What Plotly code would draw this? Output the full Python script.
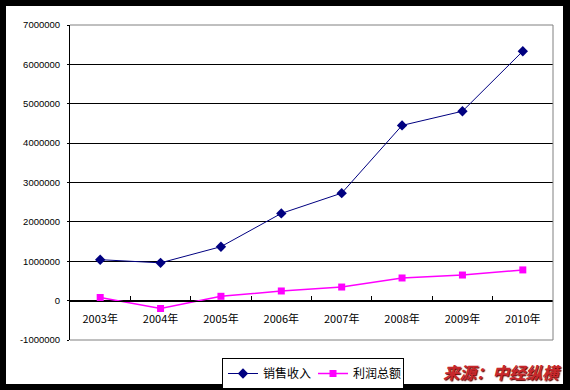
import plotly.graph_objects as go

years = ["2003年", "2004年", "2005年", "2006年", "2007年", "2008年", "2009年", "2010年"]
sales = [1040000, 960000, 1370000, 2215000, 2730000, 4450000, 4810000, 6335000]
profit = [80000, -200000, 110000, 245000, 345000, 575000, 650000, 780000]
y_tickvals = [-1000000, 0, 1000000, 2000000, 3000000, 4000000, 5000000, 6000000, 7000000]
y_ticktext = ["-1000000", "0", "1000000", "2000000", "3000000", "4000000", "5000000", "6000000", "7000000"]

W, H = 570, 390
ml, mr, mt, mb = 6, 7, 6, 6
pw, ph = W - ml - mr, H - mt - mb
# plot area in pixels
px0, px1, py0, py1 = 70, 553, 25, 340
xd = [(px0 - ml) / pw, (px1 - ml) / pw]
yd = [(H - mb - py1) / ph, (H - mb - py0) / ph]
ymin, ymax = -1000000, 7000000
zero_pos = yd[0] + (yd[1] - yd[0]) * (0 - ymin) / (ymax - ymin)

cjk = "Noto Sans CJK SC"

fig = go.Figure()
fig.add_trace(go.Scatter(
    x=years, y=sales, name="销售收入", mode="lines+markers",
    line=dict(color="#000080", width=1),
    marker=dict(symbol="diamond", size=8, color="#000080"),
))
fig.add_trace(go.Scatter(
    x=years, y=profit, name="利润总额", mode="lines+markers",
    line=dict(color="#FF00FF", width=1.5),
    marker=dict(symbol="square", size=7, color="#FF00FF"),
))

shapes = [
    dict(type="rect", xref="paper", yref="paper", x0=0, x1=1, y0=0, y1=1,
         fillcolor="white", line=dict(width=0), layer="below"),
]
for (x0, y0, x1, y1) in [(0, 1, 1, 1), (1, 0, 1, 1), (0, 0, 1, 0)]:
    shapes.append(dict(type="line", xref="x domain", yref="y domain",
                       x0=x0, y0=y0, x1=x1, y1=y1,
                       line=dict(color="#808080", width=1), layer="above"))

fig.update_layout(
    width=W, height=H,
    margin=dict(l=ml, r=mr, t=mt, b=mb, pad=0, autoexpand=False),
    paper_bgcolor="black",
    plot_bgcolor="rgba(0,0,0,0)",
    shapes=shapes,
    showlegend=True,
    legend=dict(
        orientation="h", x=(222 - ml) / pw, y=(H - mb - 358) / ph,
        xanchor="left", yanchor="top",
        bordercolor="black", borderwidth=1, bgcolor="white",
        font=dict(family=cjk, size=12, color="black"),
        itemwidth=30, tracegroupgap=0,
        entrywidth=45, entrywidthmode="pixels",
    ),
    xaxis=dict(
        domain=xd, type="category", range=[-0.5, 7.5],
        anchor="free", position=zero_pos, automargin=False,
        showline=True, linecolor="black", linewidth=1,
        showgrid=False, zeroline=False,
        ticks="inside", ticklen=5, tickcolor="black", tickson="boundaries",
        ticklabelstandoff=8,
        tickfont=dict(family=cjk, size=11, color="black"),
    ),
    yaxis=dict(
        domain=yd, range=[ymin, ymax], automargin=False,
        tickvals=y_tickvals, ticktext=y_ticktext,
        showline=True, linecolor="black", linewidth=1,
        showgrid=True, gridcolor="black", gridwidth=1,
        zeroline=False,
        ticks="outside", ticklen=2, tickcolor="black",
        ticklabelstandoff=5,
        tickfont=dict(family="Liberation Sans", size=9.5, color="black"),
    ),
    annotations=[dict(
        text="<b><i>来源：中经纵横</i></b>", xref="paper", yref="paper",
        x=(563 - ml) / pw, y=(H - mb - 386) / ph, xanchor="right", yanchor="bottom",
        showarrow=False,
        font=dict(family=cjk, size=16.5, color="#c8282c", shadow="1px 1px 1px #5a0000"),
    )],
)

fig.write_html("out.html", config={"displayModeBar": False},
               post_script="document.body.style.margin='0';")
